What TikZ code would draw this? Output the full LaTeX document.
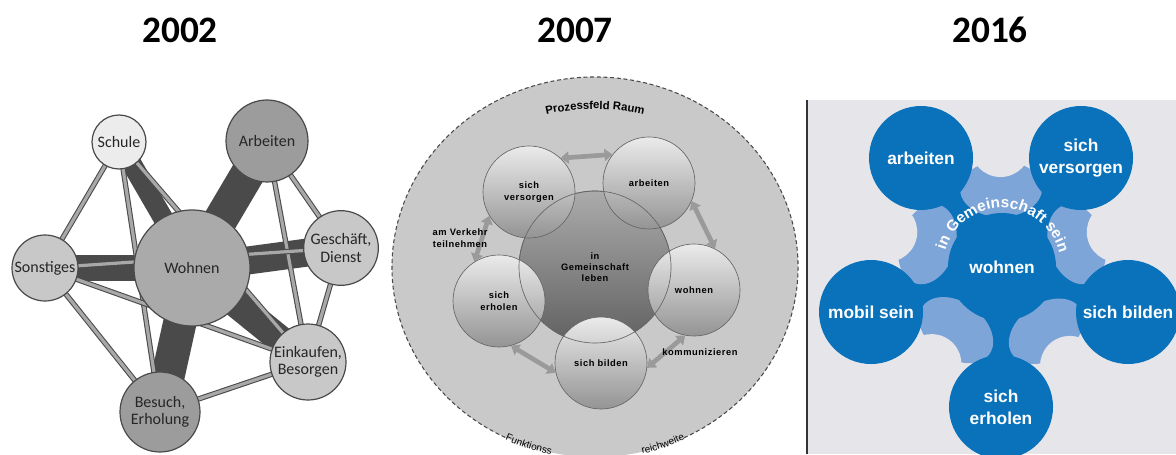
\documentclass[tikz,border=0pt]{standalone}
\usepackage{fontspec}
\setmainfont{Liberation Sans}
\newfontfamily\calfont{Carlito}
\newfontfamily\sperrfont[LetterSpace=6]{Liberation Sans}
\usetikzlibrary{arrows.meta,decorations.text}
\pgfdeclarelayer{bg}
\pgfsetlayers{bg,main}

\definecolor{kante}{HTML}{4A4A4A}
\definecolor{kantehell}{HTML}{A8A8A8}
\definecolor{kreishell}{HTML}{ECECEC}
\definecolor{kreismittel}{HTML}{C8C8C8}
\definecolor{kreisdunkel}{HTML}{9C9C9C}
\definecolor{kreiswohnen}{HTML}{AAAAAA}
\definecolor{feld}{HTML}{C9C9C9}
\definecolor{pfeilgrau}{HTML}{9A9A9A}
\definecolor{dunkelblau}{HTML}{0A72BA}
\definecolor{hellblau}{HTML}{7DA5D8}
\definecolor{grund}{HTML}{E6E6EA}

\begin{document}
\begin{tikzpicture}[x=0.75pt, y=0.75pt,
  jahr/.style={font=\calfont\bfseries\fontsize{28}{30}\selectfont},
  alt node/.style={circle, draw=kante, line width=0.9pt, inner sep=0pt, align=center,
    text=black!85, font=\calfont\fontsize{12}{13}\selectfont},
  band/.style={draw=kante, line width=#1},
  strich/.style={draw=kante, double=kantehell, line width=0.8pt, double distance=2.4pt},
  kugel/.style={circle, draw=black!60, line width=0.5pt, inner sep=0pt, minimum size=69pt,
    top color=black!8, bottom color=black!42, align=center,
    font=\sperrfont\bfseries\fontsize{7}{8.5}\selectfont},
  pfeil/.style={draw=pfeilgrau, line width=3.5pt,
    {Triangle[width=9pt,length=6pt]}-{Triangle[width=9pt,length=6pt]}},
  notiz/.style={align=center, font=\sperrfont\bfseries\fontsize{7}{8.5}\selectfont},
  blau/.style={circle, fill=dunkelblau, inner sep=0pt, minimum size=78pt, text=white,
    align=center, font=\bfseries\fontsize{13}{16.5}\selectfont}]
\useasboundingbox (0,0) rectangle (1176,454);

\node[jahr] (j1) at (180,424) {2002};
\node[jahr] (j2) at (575,424) {2007};
\node[jahr] (j3) at (990,424) {2016};

% 2002
\node[alt node, minimum size=87pt, fill=kreiswohnen] (wo) at (192,186) {Wohnen};
\node[alt node, minimum size=40.5pt, fill=kreishell] (sc) at (119,312) {Schule};
\node[alt node, minimum size=61.5pt, fill=kreisdunkel] (ab) at (267,313) {Arbeiten};
\node[alt node, minimum size=56pt, fill=kreismittel] (ge) at (341,206) {Geschäft,\\Dienst};
\node[alt node, minimum size=49.5pt, fill=kreismittel] (so) at (45,186) {Sonstiges};
\node[alt node, minimum size=57pt, fill=kreismittel] (ei) at (308,92) {Einkaufen,\\Besorgen};
\node[alt node, minimum size=60pt, fill=kreisdunkel] (be) at (160,42) {Besuch,\\Erholung};
\begin{pgfonlayer}{bg}
\foreach \z/\b in {ab/25.5pt, ge/21pt, so/19.5pt, be/25pt, ei/21pt, sc/15pt}
  \draw[band=\b] (wo.center) -- (\z.center);
\foreach \p/\q in {sc/so, sc/be, sc/ei, ab/ge, ab/ei, ge/ei, so/ge, so/ei, so/be, be/ei}
  \draw[strich] (\p.center) -- (\q.center);
\end{pgfonlayer}

% 2007
\fill[feld] (595,187) ellipse [x radius=203, y radius=190];
\draw[kante, line width=0.8pt, dash pattern=on 3pt off 2pt]
  ([shift={(595,187)}]296:203 and 190) arc [start angle=296, end angle=604, x radius=203, y radius=190];
\node[kugel, minimum size=114pt, top color=black!33, bottom color=black!62] (g7) at (595,187) {in\\Gemeinschaft\\leben};
\node[kugel] (v7) at (529,262) {sich\\versorgen};
\node[kugel] (a7) at (649,271) {arbeiten};
\node[kugel] (w7) at (694,164) {wohnen};
\node[kugel] (b7) at (601,91) {sich bilden};
\node[kugel] (e7) at (499,153) {sich\\erholen};
\draw[black!60, line width=0.5pt] (g7.center) circle [radius=76];
\draw[pfeil] (v7.47) -- (a7.142);
\draw[pfeil] (a7.-23) -- (w7.63);
\draw[pfeil] (w7.259) -- (b7.-6);
\draw[pfeil] (b7.192) -- (e7.285);
\draw[pfeil] (e7.122) -- (v7.211);
\node[notiz] (vk) at (460,216) {am Verkehr\\teilnehmen};
\node[notiz] (ko) at (700,102) {kommunizieren};
\path[decorate, decoration={text along path, text align=center,
  text={|\bfseries\fontsize{8.5}{10}\selectfont|Prozessfeld Raum}}]
  ([shift={(595,125)}]130:220) arc [start angle=130, end angle=50, radius=220];
\path[decorate, decoration={text along path, text align=left,
  text={|\fontsize{7.5}{9}\selectfont|Funktionss}}]
  ([shift={(595,187)}]244:205 and 192) arc [start angle=244, end angle=270, x radius=205, y radius=192];
\path[decorate, decoration={text along path, text align=right,
  text={|\fontsize{7.5}{9}\selectfont|reichweite}}]
  ([shift={(595,187)}]270:205 and 192) arc [start angle=270, end angle=296, x radius=205, y radius=192];

% 2016
\begin{pgfonlayer}{bg}
\fill[grund] (807,0) rectangle (1176,354);
\end{pgfonlayer}
\draw[black!80, line width=1pt] (807,0) -- (807,354);
\node[blau, minimum size=81pt] (wn) at (1002,187) {wohnen};
\node[blau] (ar) at (921,296) {arbeiten};
\node[blau] (vs) at (1081,296) {sich\\versorgen};
\node[blau] (mb) at (871,142) {mobil sein};
\node[blau] (bl) at (1128,142) {sich bilden};
\node[blau] (er) at (1001,47) {sich\\erholen};
\begin{pgfonlayer}{bg}
\foreach \n in {ar,vs,mb,bl,er}
  \draw[dunkelblau, line width=37pt] (wn.center) -- (\n.center);
\foreach \w in {90.7,163,234,304.5,17}
  \fill[hellblau, shift={(wn.center)}, rotate=\w-90] (0,78) ellipse [x radius=41, y radius=28];
\foreach \w in {90.7,163,234,304.5,17}
  \fill[grund, shift={(wn.center)}, rotate=\w-90] (0,120) circle [radius=30];
\end{pgfonlayer}
\path[decorate, decoration={text along path, text align=center, text color=white,
  text={|\bfseries\fontsize{11.5}{12}\selectfont|in Gemeinschaft sein}}]
  ([shift={(wn.center)}]165:59) arc [start angle=165, end angle=12, radius=59];
\end{tikzpicture}
\end{document}
